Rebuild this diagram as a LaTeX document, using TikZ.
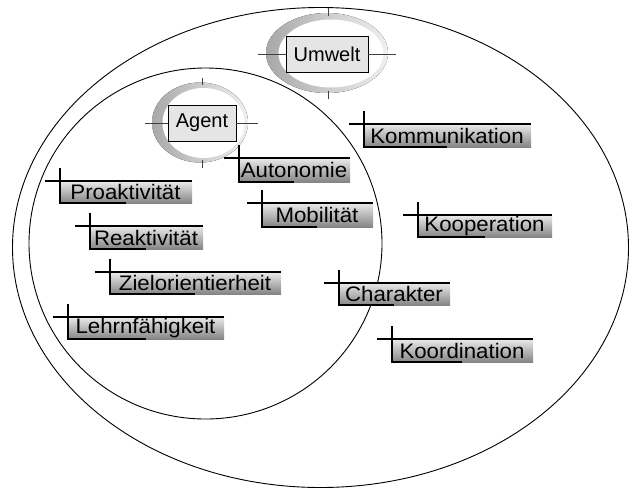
\documentclass[tikz,border=0pt]{standalone}
\usepackage{fontspec}
\setmainfont{Liberation Sans}
\newfontfamily\merkmalfont{Liberation Sans}[FakeStretch=1.06]
\usetikzlibrary{calc}

\tikzset{
  bereich/.style={draw=black, line width=0.9pt},
  sichel/.style={left color=black!34, right color=black!6, draw=none},
  kernbox/.style={draw=black, fill=black!10, line width=0.8pt, inner sep=0pt, outer sep=0pt,
    font=\fontsize{20}{22}\selectfont},
  kerntick/.style={draw=black!75, line width=0.9pt},
  merkmalbox/.style={top color=black!8, bottom color=black!48, draw=none, inner sep=0pt, outer sep=0pt,
    font=\merkmalfont\fontsize{21}{22}\selectfont},
  merkmallinie/.style={draw=black, line width=1.1pt},
}

% feature label: name, left, top, right, bottom, text
\newcommand\merkmal[6]{%
  \node[merkmalbox, minimum width={(#4-#2)*1pt}, minimum height={(#5-#3)*1pt}]
    (#1) at ({(#2+#4)/2},{(#3+#5)/2}) {#6};
  \draw[merkmallinie] ([xshift=-14pt]#1.north west) -- (#1.north east);
  \draw[merkmallinie] ([xshift=1pt,yshift=13pt]#1.north west) -- ([xshift=1pt]#1.south west) -- (#1.south);
}

\begin{document}
\begin{tikzpicture}[x=1pt, y=-1pt]
\useasboundingbox (0,0) rectangle (629,488);

% environment and agent regions
\draw[bereich] (320.5,247.5) ellipse [x radius=308, y radius=240];
\draw[bereich] (205.5,243.5) ellipse [x radius=176.5, y radius=175.5];

% Umwelt with crescent
\fill[sichel] (327,53) ellipse [x radius=61, y radius=40];
\fill[white] (331,53.5) ellipse [x radius=52.5, y radius=34];
\node[kernbox, minimum width=82pt, minimum height=36pt] (umwelt) at (327,54) {Umwelt};
\coordinate (uo) at (328,8);
\coordinate (uu) at (328,99);
\coordinate (ul) at (258,54);
\coordinate (ur) at (396,54);
\draw[kerntick] (ul) -- (umwelt.west);
\draw[kerntick] (umwelt.east) -- (ur);
\draw[kerntick] (uo) -- ++(0,8);
\draw[kerntick] (uu) -- ++(0,-8);

% Agent with crescent
\fill[sichel] (200,122.5) ellipse [x radius=48, y radius=40];
\fill[white] (203.5,123) ellipse [x radius=41, y radius=35];
\node[kernbox, minimum width=68pt, minimum height=36pt] (agent) at (202,123) {Agent};
\coordinate (ao) at (202,78);
\coordinate (au) at (202,168);
\coordinate (al) at (145,123);
\coordinate (ar) at (258,123);
\draw[kerntick] (al) -- (agent.west);
\draw[kerntick] (agent.east) -- (ar);
\draw[kerntick] (ao) -- ++(0,7);
\draw[kerntick] (au) -- ++(0,-8);

% agent properties
\merkmal{proakt}{59}{181}{192}{203}{Proaktivität}
\merkmal{reakt}{89}{226}{203}{249}{Reaktivität}
\merkmal{ziel}{109}{272}{281}{294}{Zielorientierheit}
\merkmal{lehrn}{67}{317}{224}{339}{Lehrnfähigkeit}
\merkmal{auton}{238}{158}{350}{182}{Autonomie}
\merkmal{mobil}{261}{203}{373}{227}{Mobilität}

% properties in the environment
\merkmal{kommu}{363}{124}{531}{147}{Kommunikation}
\merkmal{koop}{417}{215}{552}{237}{Kooperation}
\merkmal{chara}{338}{283}{450}{305}{Charakter}
\merkmal{koord}{391}{339}{533}{362}{Koordination}
\end{tikzpicture}
\end{document}
